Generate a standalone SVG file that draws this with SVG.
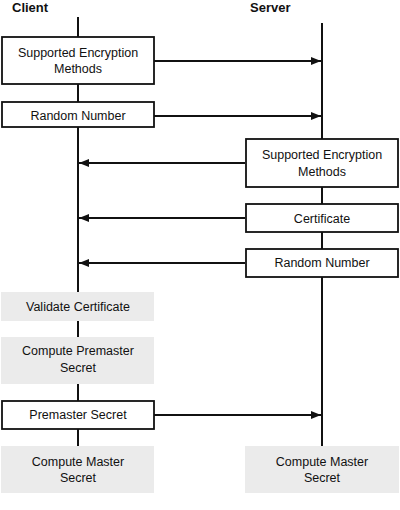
<svg xmlns="http://www.w3.org/2000/svg" width="400" height="510" viewBox="0 0 400 510">
<style>
.t{font-family:"Liberation Sans",Arial,sans-serif;font-size:12.5px;fill:#111;text-anchor:middle}
.h{font-family:"Liberation Sans",Arial,sans-serif;font-size:13px;font-weight:bold;fill:#111}
.msg{fill:#fff;stroke:#111;stroke-width:1.8}
.act{fill:#ebebeb;stroke:none}
.ln{stroke:#111;stroke-width:2;fill:none}
</style>
<defs>
<marker id="ah" markerWidth="10" markerHeight="8" refX="10" refY="4" orient="auto" markerUnits="userSpaceOnUse">
<path d="M0,0 L10,4 L0,8 Z" fill="#111"/>
</marker>
</defs>
<rect width="400" height="510" fill="#fff"/>
<g id="headers">
<text class="h" x="12" y="12">Client</text>
<text class="h" x="250" y="12">Server</text>
</g>
<g id="lifelines">
<line class="ln" x1="78" y1="17" x2="78" y2="446"/>
<line class="ln" x1="322" y1="23" x2="322" y2="446"/>
</g>
<g id="connectors">
<line class="ln" x1="154" y1="61" x2="321" y2="61" marker-end="url(#ah)"/>
<line class="ln" x1="154" y1="116" x2="321" y2="116" marker-end="url(#ah)"/>
<line class="ln" x1="245" y1="163" x2="79" y2="163" marker-end="url(#ah)"/>
<line class="ln" x1="245" y1="218" x2="79" y2="218" marker-end="url(#ah)"/>
<line class="ln" x1="245" y1="263" x2="79" y2="263" marker-end="url(#ah)"/>
<line class="ln" x1="154" y1="415" x2="321" y2="415" marker-end="url(#ah)"/>
</g>
<g id="c-enc">
<rect class="msg" x="2" y="37" width="152" height="47"/>
<text class="t" x="78" y="57">Supported Encryption</text>
<text class="t" x="78" y="73">Methods</text>
</g>
<g id="c-rand">
<rect class="msg" x="2" y="102" width="152" height="25"/>
<text class="t" x="78" y="120">Random Number</text>
</g>
<g id="s-enc">
<rect class="msg" x="246" y="139" width="152" height="48"/>
<text class="t" x="322" y="159">Supported Encryption</text>
<text class="t" x="322" y="176">Methods</text>
</g>
<g id="s-cert">
<rect class="msg" x="246" y="204" width="152" height="28"/>
<text class="t" x="322" y="223">Certificate</text>
</g>
<g id="s-rand">
<rect class="msg" x="246" y="249" width="152" height="28"/>
<text class="t" x="322" y="267">Random Number</text>
</g>
<g id="validate">
<rect class="act" x="1" y="292" width="153" height="29"/>
<text class="t" x="78" y="311">Validate Certificate</text>
</g>
<g id="compute-pre">
<rect class="act" x="1" y="337" width="153" height="47"/>
<text class="t" x="78" y="355">Compute Premaster</text>
<text class="t" x="78" y="372">Secret</text>
</g>
<g id="pre">
<rect class="msg" x="2" y="401" width="152" height="28"/>
<text class="t" x="78" y="419">Premaster Secret</text>
</g>
<g id="c-master">
<rect class="act" x="1" y="446" width="153" height="47"/>
<text class="t" x="78" y="466">Compute Master</text>
<text class="t" x="78" y="482">Secret</text>
</g>
<g id="s-master">
<rect class="act" x="245" y="446" width="154" height="47"/>
<text class="t" x="322" y="466">Compute Master</text>
<text class="t" x="322" y="482">Secret</text>
</g>
</svg>
